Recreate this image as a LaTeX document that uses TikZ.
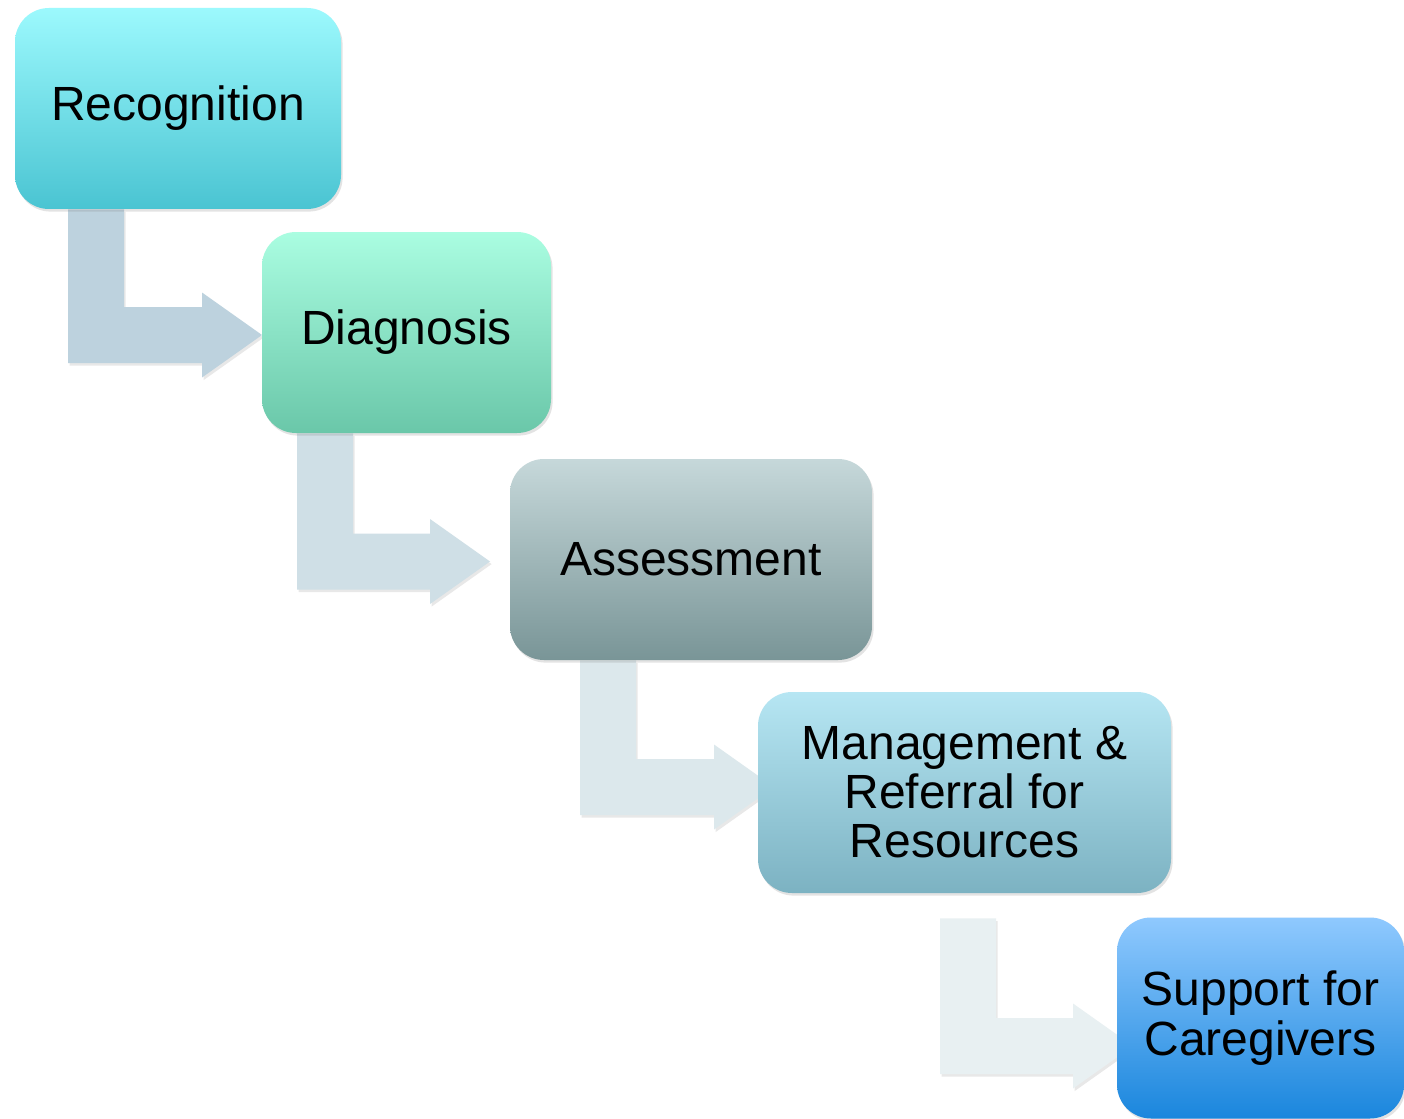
\documentclass[tikz,border=0pt]{standalone}
\usepackage{fontspec}
\setmainfont{Liberation Sans}
\usetikzlibrary{calc,shadows}
\pgfdeclarelayer{background}
\pgfdeclarelayer{canvas}
\pgfsetlayers{canvas,background,main}
\definecolor{rTop}{HTML}{9CF9FD}
\definecolor{rBot}{HTML}{4AC4D2}
\definecolor{dTop}{HTML}{AAFDE1}
\definecolor{dBot}{HTML}{6AC7A9}
\definecolor{aTop}{HTML}{C6D8DA}
\definecolor{aBot}{HTML}{799597}
\definecolor{mTop}{HTML}{B6E6F3}
\definecolor{mBot}{HTML}{7CB2C2}
\definecolor{sTop}{HTML}{8FC9FE}
\definecolor{sBot}{HTML}{1A86DD}
\definecolor{arA}{HTML}{BDD2DE}
\definecolor{arB}{HTML}{CFDFE6}
\definecolor{arC}{HTML}{DCE8EC}
\definecolor{arD}{HTML}{E8F0F2}
\tikzset{
  stepbox/.style={rectangle, rounded corners=17pt, align=center,
    font=\fontsize{24}{25}\selectfont, text=black, minimum height=100.5pt,
    inner sep=2pt,
    drop shadow={shadow xshift=0.8pt, shadow yshift=-1.3pt, opacity=0.22}},
  arrshadow/.style={drop shadow={shadow xshift=0.8pt, shadow yshift=-1.3pt, opacity=0.18}}
}
% #1 from, #2 to, #3 colour, #4 stem left x (px), #5 head base x (px),
% #6 stem top offset below #1.south (px), #7 axis offset below #2.west (px)
\newcommand\bentarr[7]{%
  \fill[#3, arrshadow] let \p1=(#1.south), \p2=(#2.west),
     \n1={#4*0.5pt}, \n2={#4*0.5pt+28pt}, \n3={#5*0.5pt}, \n4={#5*0.5pt+30pt},
     \n5={\y1-#6*0.5pt}, \n6={\y2-#7*0.5pt} in
   (\n1,\n5) -- (\n2,\n5) -- (\n2,\n6+14pt) -- (\n3,\n6+14pt) -- (\n3,\n6+21.25pt)
   -- (\n4,\n6) -- (\n3,\n6-21.25pt) -- (\n3,\n6-14pt) -- (\n1,\n6-14pt) -- cycle;}
\begin{document}
\begin{tikzpicture}[x=0.5pt,y=-0.5pt]
\begin{pgfonlayer}{canvas}
\useasboundingbox[fill=white] (0,0) rectangle (1404,1118);
\end{pgfonlayer}
\node[stepbox, minimum width=163pt, top color=rTop, bottom color=rBot] (rec) at (178,108.5) {Recognition};
\node[stepbox, minimum width=144.5pt, top color=dTop, bottom color=dBot] (dia) at (406.5,332.5) {\raisebox{-1pt}{Diagnosis}};
\node[stepbox, minimum width=181pt, top color=aTop, bottom color=aBot] (ass) at (691,559.5) {Assessment};
\node[stepbox, minimum width=206.5pt, top color=mTop, bottom color=mBot, font=\fontsize{24}{24.5}\selectfont] (man) at (964.5,792.5) {Management \&\\Referral for\\Resources};
\node[stepbox, minimum width=143.5pt, top color=sTop, bottom color=sBot] (sup) at (1260.5,1018) {\raisebox{-2pt}{Support for}\\\raisebox{-2pt}{Caregivers}};
\begin{pgfonlayer}{background}
\bentarr{rec}{dia}{arA}{68}{202}{0}{2.5}
\bentarr{dia}{ass}{arB}{297}{430}{0}{2}
\bentarr{ass}{man}{arC}{580}{714}{0}{-5.5}
\bentarr{man}{sup}{arD}{940}{1073}{25}{28}
\end{pgfonlayer}
\end{tikzpicture}
\end{document}
